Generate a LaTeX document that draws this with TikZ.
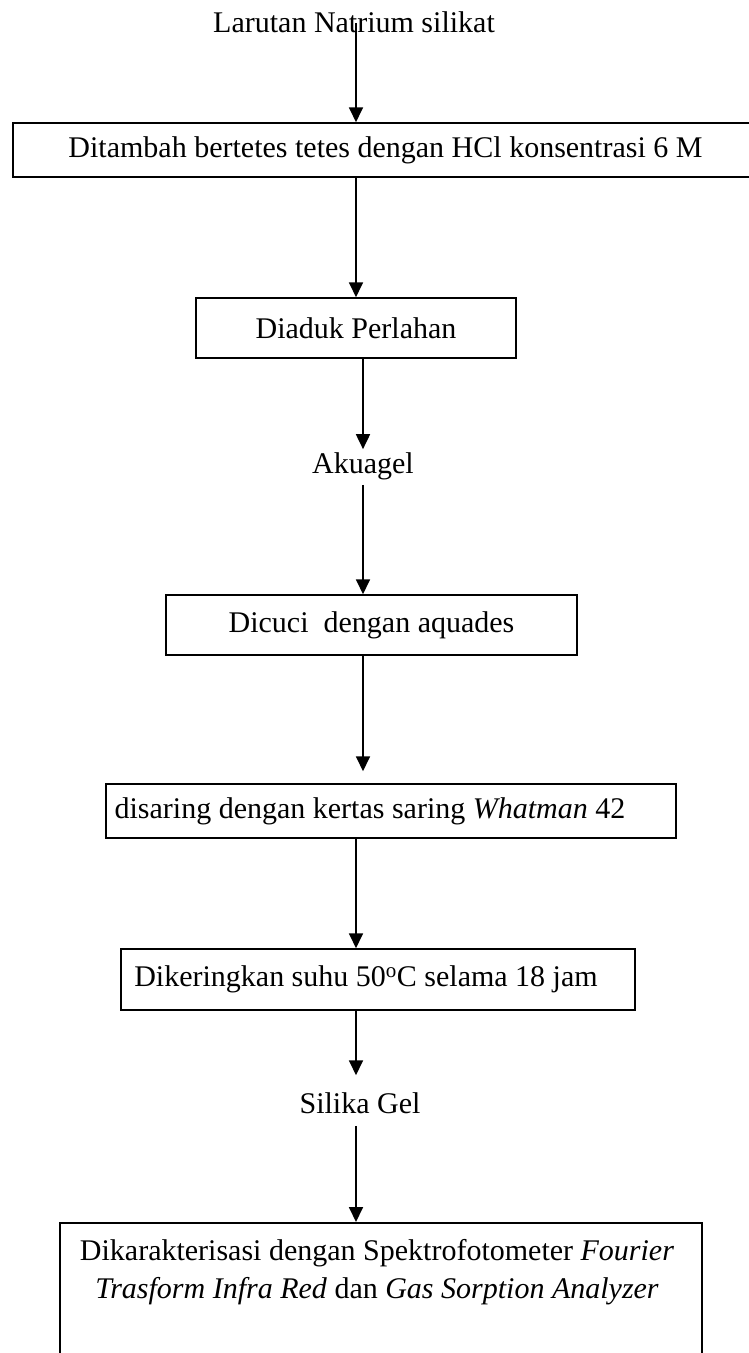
\documentclass[tikz,border=0pt]{standalone}
\usepackage{fontspec}
\setmainfont{Liberation Serif}
\usetikzlibrary{arrows.meta}
\begin{document}
\begin{tikzpicture}[x=1pt,y=-1pt,
  every node/.style={font=\fontsize{30}{38}\selectfont, inner sep=0pt},
  procbox/.style={draw, line width=1.5pt},
  flow/.style={line width=1.8pt, -{Triangle[width=14pt,length=15pt]}},
]
\useasboundingbox (0,0) rectangle (749,1353);
\clip (0,0) rectangle (749,1353);
\coordinate (axA) at (356,0);
\coordinate (axB) at (363,0);
\node (title) at (354,22) {Larutan Natrium silikat};
\node[procbox, minimum width=745pt, minimum height=54pt] (b1) at (385.5,150) {Ditambah bertetes tetes dengan HCl konsentrasi 6 M};
\node[procbox, minimum width=320pt, minimum height=60pt] (b2) at (356,328) {Diaduk Perlahan};
\node (aku) at (363,466) {Akuagel};
\node[procbox, minimum width=411pt, minimum height=60pt] (b3) at (371.5,625) {Dicuci\ \ dengan aquades};
\node[procbox, minimum width=570pt, minimum height=54pt] (b4) at (391,811) {\hspace*{-42pt}disaring dengan kertas saring \textit{Whatman} 42};
\node[procbox, minimum width=514pt, minimum height=61pt] (b5) at (378,979.5) {\hspace*{-24pt}Dikeringkan suhu 50\textsuperscript{o}C selama 18 jam};
\node (sil) at (360,1103) {Silika Gel};
\node[procbox, anchor=north, minimum width=642pt, minimum height=200pt] (b6) at (381,1222) {};
\node[align=center] (b6t) at (377,1272) {Dikarakterisasi dengan Spektrofotometer \textit{Fourier}\\\textit{Trasform Infra Red} dan \textit{Gas Sorption Analyzer}};
\draw[flow, shorten <=-10pt] (title.south -| axA) -- (b1.north -| axA);
\draw[flow] (b1.south -| axA) -- (b2.north -| axA);
\draw[flow, shorten >=3pt] (b2.south -| axB) -- (aku.north -| axB);
\draw[flow, shorten <=5pt] (aku.south -| axB) -- (b3.north -| axB);
\draw[flow, shorten >=12pt] (b3.south -| axB) -- (b4.north -| axB);
\draw[flow] (b4.south -| axA) -- (b5.north -| axA);
\draw[flow, shorten >=17pt] (b5.south -| axA) -- (sil.north -| axA);
\draw[flow, shorten <=12pt] (sil.south -| axA) -- (b6.north -| axA);
\end{tikzpicture}
\end{document}
